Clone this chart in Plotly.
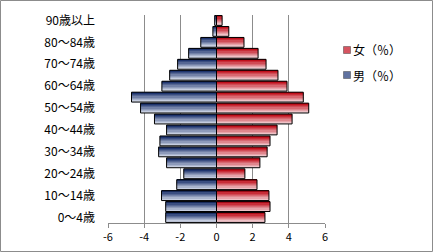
import plotly.graph_objects as go

ages = ["0～4歳", "5～9歳", "10～14歳", "15～19歳", "20～24歳", "25～29歳", "30～34歳",
        "35～39歳", "40～44歳", "45～49歳", "50～54歳", "55～59歳", "60～64歳",
        "65～69歳", "70～74歳", "75～79歳", "80～84歳", "85～89歳", "90歳以上"]
male = [2.81, 2.81, 3.04, 2.2, 1.81, 2.76, 3.2, 3.13, 2.76, 3.43, 4.2, 4.7, 3.02,
        2.59, 2.15, 1.54, 0.87, 0.2, 0.1]
female = [2.68, 2.96, 2.9, 2.24, 1.57, 2.4, 2.8, 2.96, 3.35, 4.18, 5.1, 4.8, 3.9,
          3.4, 2.74, 2.3, 1.52, 0.68, 0.31]
x_ticks = [-6, -4, -2, 0, 2, 4, 6]
legend_names = ["女（％）", "男（％）"]

pos = list(range(len(ages)))
male_neg = [-v for v in male]

fig = go.Figure()

N = 8
bw = 0.9

def lerp(c1, c2, t):
    return "rgb(%d,%d,%d)" % tuple(int(round(a + (b - a) * t)) for a, b in zip(c1, c2))

series = [
    (male_neg, (30, 52, 110), (225, 231, 243)),
    (female, (192, 16, 28), (247, 222, 226)),
]
for vals, dark, light in series:
    for k in range(N):
        t = k / (N - 1)  # 0 bottom(light) -> 1 top(dark)
        fig.add_trace(go.Bar(
            y=pos, x=vals, orientation="h",
            width=bw / N + 0.002, offset=-bw / 2 + k * bw / N,
            marker=dict(color=lerp(light, dark, t), line=dict(width=0)),
            showlegend=False, hoverinfo="skip"))
    fig.add_trace(go.Bar(
        y=pos, x=vals, orientation="h", width=bw, offset=-bw / 2,
        marker=dict(color="rgba(0,0,0,0)", line=dict(color="black", width=1)),
        showlegend=False, hoverinfo="skip"))

L, R, T, B = 108, 108, 15, 29
W, H = 433, 252
pw = W - L - R
ph = H - T - B

def px_x(x):
    return (x - L) / pw

def px_y(y):
    return (H - B - y) / ph

shapes = [dict(type="rect", xref="paper", yref="paper",
               x0=px_x(0.5), x1=px_x(W - 0.5), y0=px_y(H - 0.5), y1=px_y(0.5),
               line=dict(color="#8c8c8c", width=1), fillcolor="rgba(0,0,0,0)", layer="below")]
annotations = []
leg_colors = ["rgb(214,84,96)", "rgb(96,114,160)"]
for i, (nm, col) in enumerate(zip(legend_names, leg_colors)):
    cy = 50 + 25 * i
    shapes.append(dict(type="rect", xref="paper", yref="paper",
                       x0=px_x(343.5), x1=px_x(350.5), y0=px_y(cy + 3.5), y1=px_y(cy - 3.5),
                       line=dict(color="#444", width=0.5), fillcolor=col))
    annotations.append(dict(text=nm, xref="paper", yref="paper", x=px_x(351), y=px_y(cy),
                            xanchor="left", yanchor="middle", showarrow=False,
                            font=dict(size=12, color="black")))

fig.update_layout(
    width=W, height=H,
    margin=dict(l=L, r=R, t=T, b=B, autoexpand=False),
    barmode="overlay", showlegend=False,
    paper_bgcolor="white", plot_bgcolor="white",
    font=dict(family="Noto Sans CJK JP", size=12, color="black"),
    xaxis=dict(range=[-6, 6], tickvals=x_ticks, ticktext=[str(v) for v in x_ticks],
               showgrid=True, gridcolor="#8c8c8c", gridwidth=1,
               zeroline=True, zerolinecolor="#8c8c8c", zerolinewidth=1,
               showline=True, linecolor="#8c8c8c", linewidth=1,
               ticks="outside", ticklen=4, tickcolor="#8c8c8c",
               tickfont=dict(size=11), fixedrange=True, automargin=False),
    yaxis=dict(range=[-0.5, len(ages) - 0.5],
               tickvals=pos[::2], ticktext=ages[::2],
               showgrid=False, zeroline=False, showline=False,
               ticks="", ticklabelstandoff=12, tickfont=dict(size=12),
               fixedrange=True, automargin=False),
    shapes=shapes, annotations=annotations,
)

fig.write_html("out.html", config={"displayModeBar": False})
